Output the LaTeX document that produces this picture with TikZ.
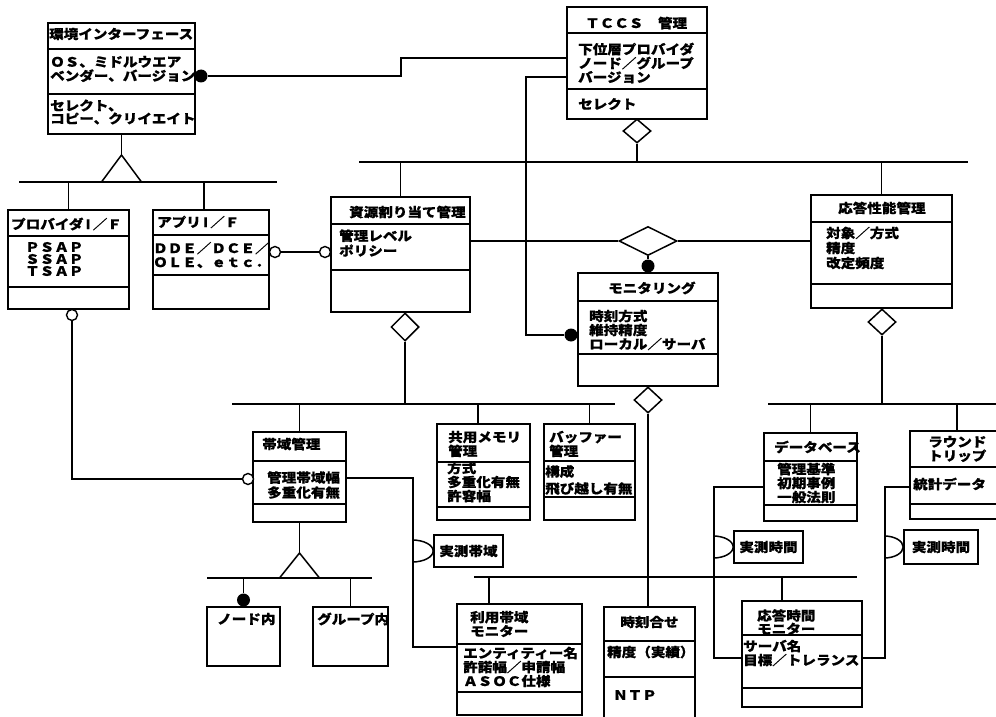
\documentclass[tikz,border=0pt]{standalone}
\usepackage{fontspec}
\newfontfamily\jpfont{Noto Sans CJK JP}[FakeStretch=1.12, BoldFeatures={FakeBold=0.6}]
\usetikzlibrary{fit,shapes.geometric}

\tikzset{
  ln/.style={line width=1.5pt},
  cls/.style={draw, line width=1.7pt, inner sep=0pt},
  divline/.style={line width=1.7pt},
  lbl/.style={anchor=west, inner sep=0pt, align=left, font=\fontsize{13}{14}\selectfont\jpfont\bfseries},
  fdot/.style={circle, fill, inner sep=0pt, minimum size=13pt},
  odot/.style={circle, draw, fill=white, line width=1.4pt, inner sep=0pt, minimum size=11pt},
  agg/.style={diamond, draw, fill=white, line width=1.5pt, inner sep=0pt, minimum width=28pt, minimum height=26pt},
}

% class box: name, x1, y1, x2, y2, dividers
\newcommand{\clsbox}[6]{%
  \node[cls, fit={(#2,#3) (#4,#5)}] (#1) {};
  \foreach \dv in {#6} {\draw[divline] (#2,\dv) -- (#4,\dv);}
}

\begin{document}
\begin{tikzpicture}[x=1pt,y=-1pt]
  \useasboundingbox (0,0) rectangle (996,717);
  \fill[white] (0,0) rectangle (996,717);

  % classes
  \clsbox{env}{48}{23}{195}{134}{49,94}
  \clsbox{tccs}{567}{7}{707}{119}{33,89}
  \clsbox{prov}{8}{210}{129}{309}{236,287}
  \clsbox{app}{153}{210}{269}{309}{235,275}
  \clsbox{res}{331}{197}{470}{312}{224,270}
  \clsbox{mon}{578}{273}{718}{386}{301,354}
  \clsbox{resp}{811}{195}{952}{308}{222,284}
  \clsbox{band}{253}{432}{346}{522}{461,504}
  \clsbox{shm}{437}{424}{530}{520}{462,507}
  \clsbox{buf}{544}{424}{635}{520}{461,497}
  \clsbox{db}{764}{433}{857}{521}{461,505}
  \clsbox{rtt}{910}{431}{1004}{519}{467,504}
  \clsbox{use}{457}{604}{582}{715}{644,692}
  \clsbox{tsync}{604}{607}{695}{720}{641,677}
  \clsbox{rtm}{742}{601}{862}{707}{635,688}
  \node[cls, fit={(207,607) (280,666)}] (node) {};
  \node[cls, fit={(313,607) (388,666)}] (grp) {};
  \node[cls, fit={(434,535) (503,567)}] (meas1) {};
  \node[cls, fit={(734,531) (803,563)}] (meas2) {};
  \node[cls, fit={(904,530) (978,564)}] (meas3) {};

  % texts
  \node[lbl] (env-t) at (49,34) {環境インターフェース};
  \node[lbl] (env-a) at (50,69) {ＯＳ、ミドルウエア\\ベンダー、バージョン};
  \node[lbl, font=\fontsize{13}{13}\selectfont\jpfont\bfseries] (env-b) at (50,112) {セレクト、\\コピー、クリイエイト};
  \node[lbl] (tccs-t) at (585,23) {ＴＣＣＳ　管理};
  \node[lbl] (tccs-a) at (578,63) {下位層プロバイダ\\ノード／グループ\\バージョン};
  \node[lbl] (tccs-b) at (578,104) {セレクト};
  \node[lbl] (prov-t) at (11,224) {プロバイダ\,I\,／Ｆ};
  \node[lbl, font=\fontsize{13}{12}\selectfont\jpfont\bfseries] (prov-a) at (25,259) {ＰＳＡＰ\\ＳＳＡＰ\\ＴＳＡＰ};
  \node[lbl] (app-t) at (157,222) {アプリ\,I\,／Ｆ};
  \node[lbl] (app-a) at (153,255) {ＤＤＥ／ＤＣＥ／\\ＯＬＥ、ｅｔｃ．};
  \node[lbl] (res-t) at (349,212) {資源割り当て管理};
  \node[lbl, font=\fontsize{13}{15}\selectfont\jpfont\bfseries] (res-a) at (339,243) {管理レベル\\ポリシー};
  \node[lbl] (mon-t) at (608,288) {モニタリング};
  \node[lbl] (mon-a) at (589,330) {時刻方式\\維持精度\\ローカル／サーバ};
  \node[lbl] (resp-t) at (838,208) {応答性能管理};
  \node[lbl, font=\fontsize{13}{15}\selectfont\jpfont\bfseries] (resp-a) at (826,248) {対象／方式\\精度\\改定頻度};
  \node[lbl] (band-t) at (262,444) {帯域管理};
  \node[lbl, font=\fontsize{13}{15}\selectfont\jpfont\bfseries] (band-a) at (267,485) {管理帯域幅\\多重化有無};
  \node[lbl] (shm-t) at (448,444) {共用メモリ\\管理};
  \node[lbl] (shm-a) at (447,482) {方式\\多重化有無\\許容幅};
  \node[lbl] (buf-t) at (549,444) {バッファー\\管理};
  \node[lbl, font=\fontsize{13}{17}\selectfont\jpfont\bfseries] (buf-a) at (545,480) {構成\\飛び越し有無};
  \node[lbl] (db-t) at (774,447) {データベース};
  \node[lbl] (db-a) at (777,483) {管理基準\\初期事例\\一般法則};
  \node[lbl] (rtt-t) at (928,449) {ラウンド\\トリップ};
  \node[lbl] (rtt-a) at (913,484) {統計データ};
  \node[lbl] (node-t) at (217,619) {ノード内};
  \node[lbl] (grp-t) at (317,619) {グループ内};
  \node[lbl] (use-t) at (470,624) {利用帯域\\モニター};
  \node[lbl] (use-a) at (463,667) {エンティティー名\\許諾幅／申請幅\\ＡＳＯＣ仕様};
  \node[lbl, anchor=center] (tsync-t) at (tsync.north |- 0,622) {時刻合せ};
  \node[lbl] (tsync-a) at (607,652) {精度（実績）};
  \node[lbl] (tsync-b) at (613,695) {ＮＴＰ};
  \node[lbl, font=\fontsize{13}{12}\selectfont\jpfont\bfseries] (rtm-t) at (757,622) {応答時間\\モニター};
  \node[lbl] (rtm-a) at (743,653) {サーバ名\\目標／トレランス};
  \node[lbl, anchor=center] (meas1-t) at (meas1) {実測帯域};
  \node[lbl, anchor=center] (meas2-t) at (meas2) {実測時間};
  \node[lbl, anchor=center] (meas3-t) at (meas3) {実測時間};

  % aggregation diamonds and end marks
  \node[agg, minimum height=24pt] (tccsd) at (637,131) {};
  \node[agg, minimum width=58pt, minimum height=29pt] (bigd) at (648,241) {};
  \node[agg, minimum height=28pt] (resd) at (405,327) {};
  \node[agg] (respd) at (882,322) {};
  \node[agg] (mond) at (648,400) {};
  \node[fdot] (envdot) at (201,76) {};
  \node[fdot] (mondot) at (571,335) {};
  \node[fdot] (mondot2) at (648,266) {};
  \node[fdot] (nodedot) at (243.5,600) {};
  \node[odot] (appc) at (275,252) {};
  \node[odot] (resc) at (325,252) {};
  \node[odot] (provc) at (72,315) {};
  \node[odot] (bandc) at (248,479) {};

  % inheritance
  \coordinate (envtri) at (121.5,155);
  \draw[ln] (env.south) -- (envtri);
  \draw[ln, fill=white] (envtri) -- ++(-20,27) -- ++(40,0) -- cycle;
  \draw[ln] (19,182) -- (277,182);
  \draw[ln] (prov.north) -- (prov.north |- 0,182);
  \draw[ln] (app.north -| 204,0) -- (204,182);
  \coordinate (bandtri) at (299.5,553);
  \draw[ln] (band.south) -- (bandtri);
  \draw[ln, fill=white] (bandtri) -- ++(-20,25) -- ++(40,0) -- cycle;
  \draw[ln] (207,578) -- (372,578);
  \draw[ln] (nodedot.north) -- (nodedot.north |- 0,578);
  \draw[ln] (grp.north) -- (grp.north |- 0,578);

  % aggregation trees
  \draw[ln] (tccsd.south) -- (tccsd.south |- 0,162);
  \draw[ln] (359,162) -- (968,162);
  \draw[ln] (res.north) -- (res.north |- 0,162);
  \draw[ln] (resp.north) -- (resp.north |- 0,162);
  \draw[ln] (resd.south) -- (resd.south |- 0,404);
  \draw[ln] (232,404) -- (615,404);
  \draw[ln] (band.north) -- (band.north |- 0,404);
  \draw[ln] (shm.north -| 478,0) -- (478,404);
  \draw[ln] (buf.north) -- (buf.north |- 0,404);
  \draw[ln] (respd.south) -- (respd.south |- 0,404);
  \draw[ln] (768,404) -- (1004,404);
  \draw[ln] (db.north) -- (db.north |- 0,404);
  \draw[ln] (rtt.north) -- (rtt.north |- 0,404);
  \draw[ln] (mond.south) -- (mond.south |- tsync.north);
  \draw[ln] (474,577) -- (857,577);
  \draw[ln] (use.north -| 489,0) -- (489,577);
  \draw[ln] (rtm.north -| 782,0) -- (782,577);

  % associations
  \draw[ln] (envdot.east) -- (401,76) |- (tccs.west |- 0,58);
  \draw[ln] (tccs.west |- 0,77) -| (526,335) -- (mondot.west);
  \draw[ln] (res.east |- bigd.west) -- (bigd.west);
  \draw[ln] (bigd.east) -- (resp.west |- bigd.east);
  \draw[ln] (bigd.south) -- (mondot2.north);
  \draw[ln] (appc.east) -- (resc.west);
  \draw[ln] (provc.south) |- (bandc.west);
  \draw[ln] (band.east |- 0,478) -| (413,647) -- (use.west |- 0,647);
  \draw[ln] (db.west |- 0,487) -| (714,658) -- (rtm.west |- 0,658);
  \draw[ln] (rtt.west |- 0,487) -| (885,658) -- (rtm.east |- 0,658);

  % measurement sockets
  \draw[ln] (meas1.west) ++(-21,-11) arc[start angle=90, end angle=-90, x radius=21pt, y radius=11pt];
  \draw[ln] (meas2.west) ++(-20,-11) arc[start angle=90, end angle=-90, x radius=20pt, y radius=11pt];
  \draw[ln] (meas3.west) ++(-19,-11) arc[start angle=90, end angle=-90, x radius=19pt, y radius=11pt];
\end{tikzpicture}
\end{document}
